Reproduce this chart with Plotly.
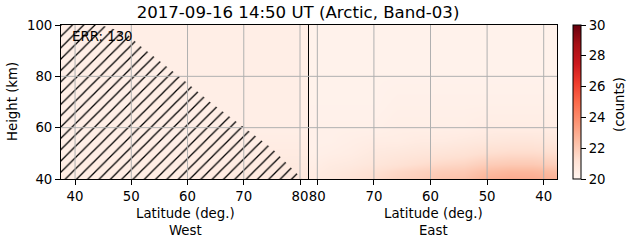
import plotly.graph_objects as go

# ---------------- data ----------------
title_text = "2017-09-16 14:50 UT (Arctic, Band-03)"
err_text = "ERR: 130"

heights = [40, 43, 46, 50, 55, 60, 70, 80, 90, 100]

west_lat = [37.5, 42, 46, 50, 54, 58, 62, 66, 70, 74, 78, 81.6]
west_counts = [
    [20.5, 20.5, 20.5, 20.5, 20.5, 20.5, 20.6, 20.6, 20.7, 20.7, 20.8, 20.9],  # 40 km
    [20.5, 20.5, 20.5, 20.5, 20.5, 20.5, 20.5, 20.6, 20.6, 20.7, 20.7, 20.8],  # 43
    [20.5, 20.5, 20.5, 20.5, 20.5, 20.5, 20.5, 20.5, 20.6, 20.6, 20.7, 20.7],  # 46
    [20.4, 20.4, 20.4, 20.5, 20.5, 20.5, 20.5, 20.5, 20.5, 20.6, 20.6, 20.6],  # 50
    [20.4, 20.4, 20.4, 20.4, 20.4, 20.4, 20.5, 20.5, 20.5, 20.5, 20.5, 20.5],  # 55
    [20.4, 20.4, 20.4, 20.4, 20.4, 20.4, 20.4, 20.4, 20.4, 20.4, 20.4, 20.4],  # 60
    [20.4, 20.4, 20.4, 20.4, 20.4, 20.4, 20.4, 20.4, 20.4, 20.4, 20.4, 20.4],  # 70
    [20.4, 20.4, 20.4, 20.4, 20.4, 20.4, 20.4, 20.4, 20.4, 20.4, 20.4, 20.4],  # 80
    [20.4, 20.4, 20.4, 20.4, 20.4, 20.4, 20.4, 20.4, 20.4, 20.4, 20.4, 20.4],  # 90
    [20.4, 20.4, 20.4, 20.4, 20.4, 20.4, 20.4, 20.4, 20.4, 20.4, 20.4, 20.4],  # 100
]

east_lat = [81.5, 78, 74, 70, 66, 62, 58, 54, 50, 46, 42, 37.6]
east_counts = [
    [20.6, 20.8, 21.1, 21.4, 21.7, 21.9, 22.2, 22.3, 22.8, 23.0, 23.0, 22.8],  # 40 km
    [20.5, 20.7, 20.9, 21.2, 21.5, 21.7, 21.9, 22.0, 22.4, 22.6, 22.6, 22.4],  # 43
    [20.4, 20.6, 20.7, 20.9, 21.1, 21.3, 21.5, 21.6, 21.9, 22.0, 22.0, 21.8],  # 46
    [20.3, 20.4, 20.5, 20.7, 20.8, 20.9, 21.0, 21.1, 21.3, 21.4, 21.4, 21.3],  # 50
    [20.3, 20.3, 20.4, 20.5, 20.5, 20.6, 20.6, 20.7, 20.8, 20.9, 20.9, 20.8],  # 55
    [20.3, 20.3, 20.3, 20.3, 20.4, 20.4, 20.4, 20.4, 20.5, 20.5, 20.5, 20.5],  # 60
    [20.2, 20.2, 20.2, 20.2, 20.3, 20.3, 20.3, 20.3, 20.3, 20.3, 20.3, 20.3],  # 70
    [20.2, 20.2, 20.2, 20.2, 20.2, 20.2, 20.2, 20.2, 20.2, 20.2, 20.2, 20.2],  # 80
    [20.2, 20.2, 20.2, 20.2, 20.2, 20.2, 20.2, 20.2, 20.2, 20.2, 20.2, 20.2],  # 90
    [20.2, 20.2, 20.2, 20.2, 20.2, 20.2, 20.2, 20.2, 20.2, 20.2, 20.2, 20.2],  # 100
]

# hatched (invalid) region boundary, west panel
hatch_lat = [37.5, 37.5, 44.5, 49.0, 51.5, 58.5, 64.0, 70.0, 75.0, 80.4]
hatch_height = [40, 100, 100, 97, 92, 80, 70, 60, 52, 40]

lat_ticks = [40, 50, 60, 70, 80]
height_ticks = [40, 60, 80, 100]
cbar_ticks = [20, 22, 24, 26, 28, 30]
x_title_west = "Latitude (deg.)<br>West"
x_title_east = "Latitude (deg.)<br>East"
y_title = "Height (km)"
cbar_title = "(counts)"

# ---------------- figure ----------------
FONT = "DejaVu Sans"
FS = 13.3
W, H = 631, 243
L, R, T, B = 61, 74, 25, 64

fig = go.Figure()

fig.add_trace(go.Heatmap(
    x=west_lat, y=heights, z=west_counts, colorscale="Reds",
    zmin=20, zmax=30, zsmooth="best", showscale=False,
    xaxis="x", yaxis="y", hoverinfo="skip"))

fig.add_trace(go.Heatmap(
    x=east_lat, y=heights, z=east_counts, colorscale="Reds",
    zmin=20, zmax=30, zsmooth="best", xaxis="x2", yaxis="y2",
    hoverinfo="skip",
    colorbar=dict(
        x=1 + (573 - 557) / (W - L - R), xanchor="left", xpad=0,
        y=0.5, yanchor="middle", len=1, lenmode="fraction", ypad=0,
        thickness=8, outlinewidth=1, outlinecolor="black",
        ticks="outside", ticklen=5, tickcolor="black", tickwidth=1,
        tickvals=cbar_ticks, tickfont=dict(family=FONT, size=FS, color="black"),
    )))

fig.add_trace(go.Scatter(
    x=hatch_lat, y=hatch_height, mode="lines", fill="toself",
    line=dict(width=0), fillcolor="rgba(0,0,0,0)",
    fillpattern=dict(shape="/", size=8, solidity=0.16, fgopacity=1,
                     fgcolor="black", bgcolor="rgba(0,0,0,0)"),
    xaxis="x", yaxis="y", hoverinfo="skip", showlegend=False))

axis_common = dict(
    showline=True, linecolor="black", linewidth=1, mirror=True,
    ticks="outside", ticklen=5, tickcolor="black", tickwidth=1,
    showgrid=False, zeroline=False,
    tickfont=dict(family=FONT, size=FS, color="black"),
    layer="above traces",
)

fig.update_layout(
    width=W, height=H,
    margin=dict(l=L, r=R, t=T, b=B, pad=0),
    paper_bgcolor="white", plot_bgcolor="white",
    showlegend=False,
    font=dict(family=FONT, size=FS, color="black"),
    title=dict(text=title_text, x=298 / W, xanchor="center",
               xref="container", y=1 - 12 / H, yref="container", yanchor="middle",
               font=dict(family=FONT, size=16.6, color="black")),
    xaxis=dict(domain=[0, 0.5], range=[37.5, 81.6], tickvals=lat_ticks,
               anchor="y", **axis_common),
    xaxis2=dict(domain=[0.5, 1], range=[81.47, 37.65], tickvals=lat_ticks,
                anchor="y2", **axis_common),
    yaxis=dict(domain=[0, 1], range=[40, 100], tickvals=height_ticks,
               anchor="x", **axis_common),
    yaxis2=dict(domain=[0, 1], range=[40, 100], tickvals=height_ticks,
                anchor="x2", matches="y", **{**axis_common, "ticks": "",
                                               "showticklabels": False}),
)

# grid lines drawn above the image (as in the original)
grid = dict(color="#b0b0b0", width=1)
shapes = []
for xa in ["x", "x2"]:
    for v in lat_ticks:
        shapes.append(dict(type="line", xref=xa, yref="y domain", x0=v, x1=v,
                           y0=0, y1=1, line=grid, layer="above"))
for ya, xd in [("y", "x domain"), ("y2", "x2 domain")]:
    for v in height_ticks[1:-1]:
        shapes.append(dict(type="line", xref=xd, yref=ya, x0=0, x1=1,
                           y0=v, y1=v, line=grid, layer="above"))
fig.update_layout(shapes=shapes)

pw = W - L - R
ph = H - T - B
fig.add_annotation(text=err_text, xref="x", yref="y", x=39.1, y=95.4,
                   xanchor="left", yanchor="middle", showarrow=False,
                   font=dict(family=FONT, size=FS, color="black"))
fig.add_annotation(text=x_title_west, xref="paper", yref="paper", x=0.25,
                   y=-(222 - (H - B)) / ph, xanchor="center", yanchor="middle",
                   showarrow=False, font=dict(family=FONT, size=FS, color="black"))
fig.add_annotation(text=x_title_east, xref="paper", yref="paper", x=0.75,
                   y=-(222 - (H - B)) / ph, xanchor="center", yanchor="middle",
                   showarrow=False, font=dict(family=FONT, size=FS, color="black"))
fig.add_annotation(text=y_title, xref="paper", yref="paper", x=(12 - L) / pw,
                   y=0.5, xanchor="center", yanchor="middle", textangle=-90,
                   showarrow=False, font=dict(family=FONT, size=FS, color="black"))
fig.add_annotation(text=cbar_title, xref="paper", yref="paper", x=(620 - L) / pw,
                   y=0.5 - 3 / ph, xanchor="center", yanchor="middle", textangle=-90,
                   showarrow=False, font=dict(family=FONT, size=FS, color="black"))

fig.write_html("out.html")
